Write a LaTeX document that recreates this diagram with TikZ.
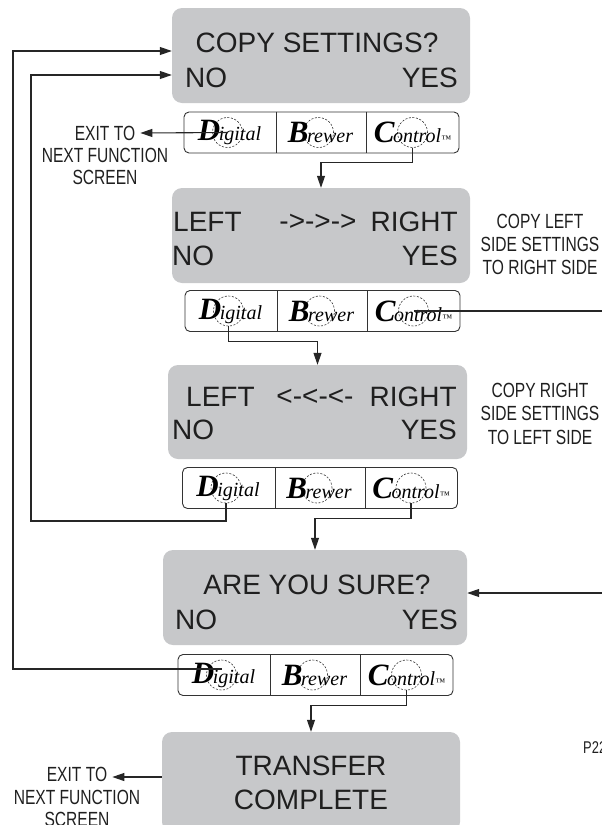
\documentclass[tikz,border=0pt]{standalone}
\usepackage{fontspec}
\setmainfont{Liberation Sans}
\newfontfamily\condfont[FakeStretch=0.76]{Liberation Sans}
\newfontfamily\btnfont{Liberation Serif}
\usetikzlibrary{arrows.meta}
\definecolor{lcdgray}{RGB}{199,200,202}
\newcommand{\btntext}[2]{{\btnfont\fontsize{31}{31}\selectfont\bfseries\itshape #1}\kern-1.5pt{\btnfont\fontsize{20}{21}\selectfont\itshape #2}}
\tikzset{
  screen/.style={fill=lcdgray, draw=none, rounded corners=10pt, inner sep=0pt},
  lcd/.style={font=\fontsize{28}{30}\selectfont, inner sep=0pt, text=black!88},
  lbl/.style={font=\condfont\fontsize{20.5}{22}\selectfont, inner sep=0pt, text=black!88},
  bar/.style={draw=black!80, line width=0.9pt, rounded corners=5pt, minimum width=275pt, minimum height=41pt, inner sep=0pt},
  ring/.style={draw=black!80, dashed, dash pattern=on 2pt off 1.6pt, line width=0.6pt, circle, minimum size=30pt, inner sep=0pt},
  btn/.style={inner sep=0pt},
  conn/.style={line width=1.1pt, draw=black!85},
  arr/.style={conn, -{Triangle[length=12pt,width=8pt]}}
}
\begin{document}
\begin{tikzpicture}[x=1pt,y=-1pt]
\useasboundingbox (0,0) rectangle (602,825);

% screens
\node[screen, minimum width=298pt, minimum height=95pt] (s1) at (321,55.5) {};
\node[screen, minimum width=298pt, minimum height=95pt] (s2) at (321,235.5) {};
\node[screen, minimum width=299pt, minimum height=94pt] (s3) at (317.5,412) {};
\node[screen, minimum width=304pt, minimum height=95pt] (s4) at (315,597.5) {};
\node[screen, minimum width=298pt, minimum height=100pt] (s5) at (311,782) {};

% screen texts
\node[lcd] (t1) at (317,43) {COPY SETTINGS?};
\node[lcd, anchor=west] (t1n) at (185,78) {NO};
\node[lcd, anchor=east] (t1y) at (458,78) {YES};

\node[lcd, anchor=west] (t2l) at (173,222) {LEFT};
\node[lcd] (t2a) at (318,222) {->->->};
\node[lcd, anchor=east] (t2r) at (458,222) {RIGHT};
\node[lcd, anchor=west] (t2n) at (172,256) {NO};
\node[lcd, anchor=east] (t2y) at (458,256) {YES};

\node[lcd, anchor=west] (t3l) at (186,397) {LEFT};
\node[lcd] (t3a) at (315,397) {<-<-<-};
\node[lcd, anchor=east] (t3r) at (457,397) {RIGHT};
\node[lcd, anchor=west] (t3n) at (172,430) {NO};
\node[lcd, anchor=east] (t3y) at (457,430) {YES};

\node[lcd] (t4) at (317,585) {ARE YOU SURE?};
\node[lcd, anchor=west] (t4n) at (175,620) {NO};
\node[lcd, anchor=east] (t4y) at (458,620) {YES};

\node[lcd] (t5a) at (311,766) {TRANSFER};
\node[lcd] (t5b) at (311,800) {COMPLETE};

% button bars
\foreach \n/\cx/\cy in {1/321.5/132.5, 2/322.5/311, 3/320/488, 4/315.5/675}{
  \node[bar] (b\n) at (\cx,\cy) {};
  \draw[draw=black!80, line width=0.9pt] ([xshift=-45pt]b\n.north) -- ([xshift=-45pt]b\n.south);
  \draw[draw=black!80, line width=0.9pt] ([xshift=45pt]b\n.north) -- ([xshift=45pt]b\n.south);
  \node[ring] (rd\n) at ([xshift=-94pt]b\n.center) {};
  \node[ring] (rb\n) at ([xshift=-3pt]b\n.center) {};
  \node[ring] (rc\n) at ([xshift=91pt]b\n.center) {};
  \node[btn] (ld\n) at ([xshift=-92pt]b\n.center) {\btntext{D}{igital}};
  \node[btn] (lb\n) at ([xshift=-1pt]b\n.center) {\btntext{B}{rewer}};
  \node[btn] (lc\n) at ([xshift=91pt]b\n.center) {\btntext{C}{ontrol{\fontsize{10}{10}\selectfont ™}}};
}

% side labels
\node[lbl] (x1a) at (105,133) {EXIT TO};
\node[lbl] (x1b) at (105,155) {NEXT FUNCTION};
\node[lbl] (x1c) at (105,177) {SCREEN};

\node[lbl] (r2a) at (540,221) {COPY LEFT};
\node[lbl] (r2b) at (540,244) {SIDE SETTINGS};
\node[lbl] (r2c) at (540,267) {TO RIGHT SIDE};

\node[lbl] (r3a) at (540,390) {COPY RIGHT};
\node[lbl] (r3b) at (540,413) {SIDE SETTINGS};
\node[lbl] (r3c) at (540,437) {TO LEFT SIDE};

\node[lbl] (x5a) at (77,774) {EXIT TO};
\node[lbl] (x5b) at (77,797) {NEXT FUNCTION};
\node[lbl] (x5c) at (77,819) {SCREEN};

\node[lbl, anchor=west, font=\condfont\fontsize{17}{18}\selectfont] (pnum) at (583,748) {P22};

% helper coordinates
\coordinate (e2) at (602,311);
\coordinate (e4) at (602,593);
\coordinate (k1) at (31,521);
\coordinate (k2) at (31,75);
\coordinate (k3) at (13,669);
\coordinate (k4) at (13,51);

% connectors
\draw[arr] (rd1.center) -- ([xshift=5pt]x1a.east);
\draw[arr] (rc1.south) -- ++(0,15) -| (s2.north);
\draw[conn] (rc2.center) -- (e2);
\draw[arr] (rd2.south) -- ++(0,15) -| (s3.north);
\draw[arr] (rd3.south) |- (k1) |- (s1.west |- k2);
\draw[arr] (rc3.south) -- ++(0,15) -| (s4.north);
\draw[arr] (e4) -- (s4.east |- e4);
\draw[arr] (rd4.center |- k3) -- (k3) |- (s1.west |- k4);
\draw[arr] (rc4.south) -- ++(0,15) -| (s5.north);
\draw[arr] (s5.west |- 0,777) -- ([xshift=5pt]x5a.east |- 0,777);
\end{tikzpicture}
\end{document}
